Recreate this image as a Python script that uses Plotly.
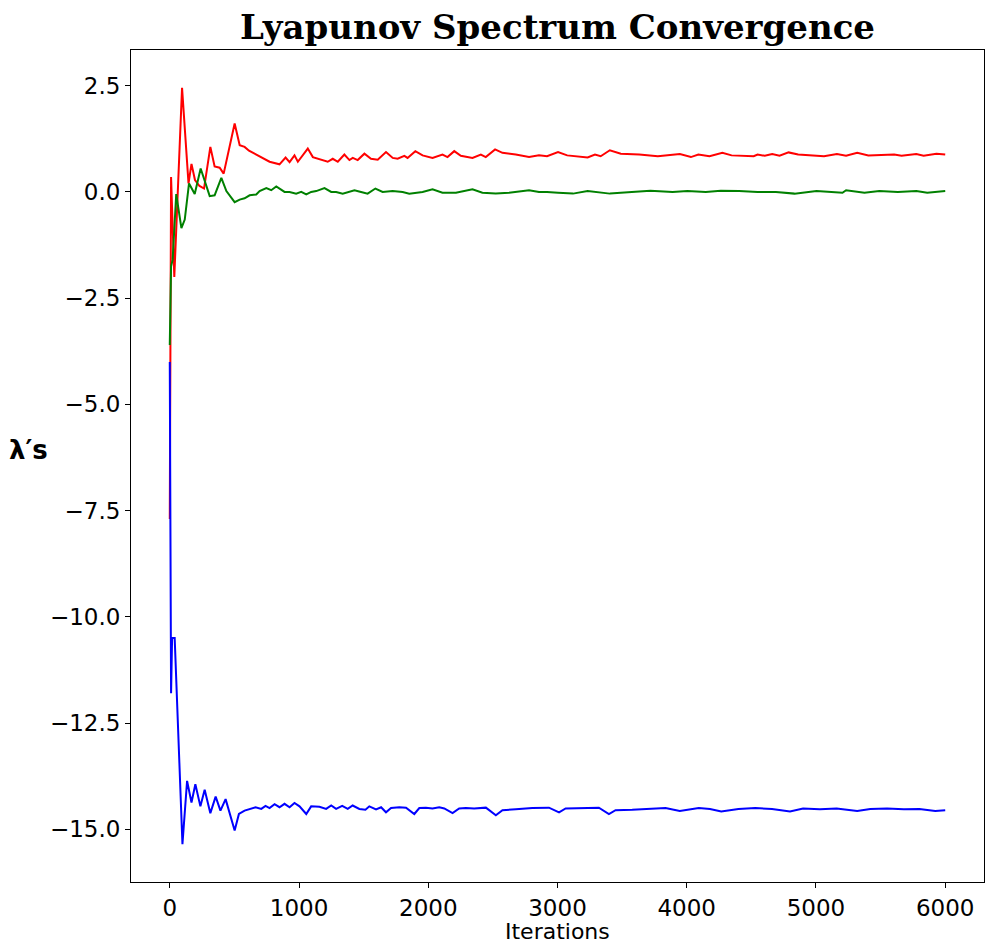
import plotly.graph_objects as go

# ---- data ----
red_x = [0, 10, 35, 95, 145, 168, 195, 230, 265, 314,
         347, 386, 417, 502, 541, 579, 613, 656, 695, 772,
         849, 896, 927, 965, 991, 1068, 1107, 1222, 1261, 1300,
         1351, 1390, 1416, 1454, 1506, 1557, 1609, 1673, 1725, 1763,
         1815, 1840, 1900, 1956, 2033, 2110, 2149, 2201, 2252, 2342,
         2407, 2445, 2517, 2574, 2677, 2780, 2857, 2919, 3004, 3075,
         3233, 3290, 3334, 3405, 3490, 3633, 3776, 3861, 3947, 4032,
         4090, 4176, 4276, 4347, 4518, 4548, 4604, 4661, 4718, 4788,
         4862, 5062, 5162, 5233, 5319, 5405, 5605, 5662, 5776, 5833,
         5932, 6000]
red_y = [-7.7, 0.35, -2.0, 2.45, 0.2, 0.66, 0.28, 0.14, 0.08, 1.06,
         0.6, 0.57, 0.43, 1.61, 1.1, 1.06, 0.97, 0.9, 0.82, 0.71,
         0.65, 0.81, 0.7, 0.86, 0.71, 1.02, 0.82, 0.71, 0.78, 0.71,
         0.88, 0.75, 0.8, 0.75, 0.9, 0.78, 0.76, 0.94, 0.8, 0.78,
         0.85, 0.8, 0.96, 0.86, 0.8, 0.88, 0.82, 0.96, 0.85, 0.8,
         0.88, 0.82, 1.0, 0.92, 0.88, 0.82, 0.86, 0.84, 0.94, 0.86,
         0.81, 0.88, 0.84, 0.98, 0.9, 0.88, 0.84, 0.86, 0.89, 0.82,
         0.88, 0.84, 0.92, 0.86, 0.84, 0.88, 0.85, 0.89, 0.85, 0.93,
         0.88, 0.84, 0.89, 0.85, 0.92, 0.86, 0.88, 0.85, 0.89, 0.85,
         0.9, 0.88]

green_x = [0, 10, 22, 50, 90, 116, 149, 193, 239, 309,
           347, 399, 438, 502, 541, 579, 618, 669, 695, 747,
           785, 824, 888, 927, 978, 1017, 1056, 1094, 1133, 1197,
           1249, 1287, 1338, 1429, 1480, 1531, 1591, 1647, 1724, 1802,
           1853, 1956, 2033, 2110, 2214, 2342, 2419, 2522, 2625, 2728,
           2780, 2857, 2919, 3004, 3120, 3233, 3405, 3575, 3719, 3890,
           4005, 4147, 4263, 4405, 4548, 4690, 4834, 5004, 5205, 5233,
           5375, 5490, 5633, 5776, 5861, 6000]
green_y = [-3.6, -1.75, -1.6, -0.05, -0.85, -0.65, 0.2, -0.05, 0.55, -0.1,
           -0.08, 0.33, 0.02, -0.24, -0.18, -0.15, -0.08, -0.06, 0.02, 0.09,
           0.04, 0.13, 0.0, 0.0, -0.04, 0.0, -0.06, 0.0, 0.02, 0.09,
           0.0, 0.0, -0.04, 0.04, 0.0, -0.04, 0.08, 0.0, 0.02, 0.0,
           -0.04, 0.0, 0.06, -0.02, -0.02, 0.06, -0.02, -0.04, -0.02, 0.02,
           0.04, 0.0, 0.0, -0.02, -0.04, 0.02, -0.04, 0.0, 0.03, 0.0,
           0.02, 0.0, 0.03, 0.02, 0.0, 0.0, -0.04, 0.02, -0.02, 0.04,
           -0.02, 0.02, 0.0, 0.02, -0.02, 0.02]

blue_x = [0, 10, 18, 38, 98, 134, 168, 198, 237, 270,
          314, 355, 392, 432, 502, 535, 579, 618, 664, 708,
          741, 772, 811, 849, 888, 927, 965, 1004, 1056, 1094,
          1158, 1210, 1249, 1287, 1334, 1377, 1415, 1467, 1514, 1544,
          1596, 1635, 1673, 1712, 1776, 1828, 1892, 1931, 1982, 2033,
          2085, 2124, 2188, 2239, 2291, 2355, 2446, 2523, 2574, 2677,
          2805, 2934, 3012, 3063, 3191, 3320, 3398, 3449, 3578, 3707,
          3836, 3946, 4093, 4180, 4267, 4400, 4530, 4660, 4799, 4900,
          5030, 5160, 5319, 5420, 5550, 5680, 5800, 5923, 6000]
blue_y = [-4.0, -11.8, -10.5, -10.5, -15.35, -13.86, -14.37, -13.94, -14.46, -14.07,
          -14.62, -14.23, -14.56, -14.29, -15.03, -14.64, -14.56, -14.52, -14.48, -14.52,
          -14.45, -14.5, -14.41, -14.48, -14.4, -14.48, -14.38, -14.46, -14.64, -14.46,
          -14.47, -14.52, -14.44, -14.52, -14.45, -14.52, -14.44, -14.52, -14.54, -14.46,
          -14.53, -14.48, -14.6, -14.5, -14.48, -14.49, -14.64, -14.5, -14.49, -14.51,
          -14.48, -14.51, -14.62, -14.51, -14.5, -14.51, -14.49, -14.67, -14.55, -14.53,
          -14.5, -14.49, -14.6, -14.51, -14.5, -14.49, -14.64, -14.55, -14.54, -14.52,
          -14.5, -14.57, -14.5, -14.52, -14.58, -14.52, -14.5, -14.52, -14.58, -14.51,
          -14.53, -14.51, -14.57, -14.52, -14.51, -14.53, -14.52, -14.57, -14.55]

x_ticks = [0, 1000, 2000, 3000, 4000, 5000, 6000]
x_tick_text = ["0", "1000", "2000", "3000", "4000", "5000", "6000"]
y_ticks = [-15.0, -12.5, -10.0, -7.5, -5.0, -2.5, 0.0, 2.5]
y_tick_text = ["\u221215.0", "\u221212.5", "\u221210.0", "\u22127.5", "\u22125.0", "\u22122.5", "0.0", "2.5"]

assert len(red_x) == len(red_y)
assert len(green_x) == len(green_y)
assert len(blue_x) == len(blue_y)

fig = go.Figure()
for xs, ys, col in [(red_x, red_y, "#ff0000"), (green_x, green_y, "#008000"), (blue_x, blue_y, "#0000ff")]:
    fig.add_trace(go.Scatter(x=xs, y=ys, mode="lines", line=dict(color=col, width=2),
                             showlegend=False, hoverinfo="skip"))

axis_common = dict(showline=True, linecolor="black", linewidth=1, mirror=True,
                   ticks="outside", ticklen=5, tickwidth=1, tickcolor="black",
                   showgrid=False, zeroline=False,
                   tickfont=dict(family="DejaVu Sans", size=23, color="black"))

fig.update_xaxes(range=[-300, 6300], tickvals=x_ticks, ticktext=x_tick_text, **axis_common)
fig.update_yaxes(range=[-16.24, 3.34], tickvals=y_ticks, ticktext=y_tick_text, **axis_common)

fig.update_layout(
    width=985, height=947,
    margin=dict(l=131, r=1, t=50, b=65),
    paper_bgcolor="white", plot_bgcolor="white",
    title=dict(text="<b>Lyapunov Spectrum Convergence</b>",
               font=dict(family="DejaVu Serif", size=34, color="black"),
               x=0.5, xref="paper", xanchor="center",
               y=1 - 27 / 947, yref="container", yanchor="middle"),
    annotations=[
        dict(text="Iterations", xref="paper", yref="paper", x=0.5, y=(882 - 932) / 832,
             xanchor="center", yanchor="middle", showarrow=False, borderpad=0,
             font=dict(family="DejaVu Sans", size=22, color="black")),
        dict(text="<b>\u03bb\u2032s</b>", xref="paper", yref="paper", x=-0.1196, y=0.519,
             xanchor="center", yanchor="middle", showarrow=False,
             font=dict(family="DejaVu Sans", size=26, color="black")),
    ],
)

fig.write_html("out.html")
